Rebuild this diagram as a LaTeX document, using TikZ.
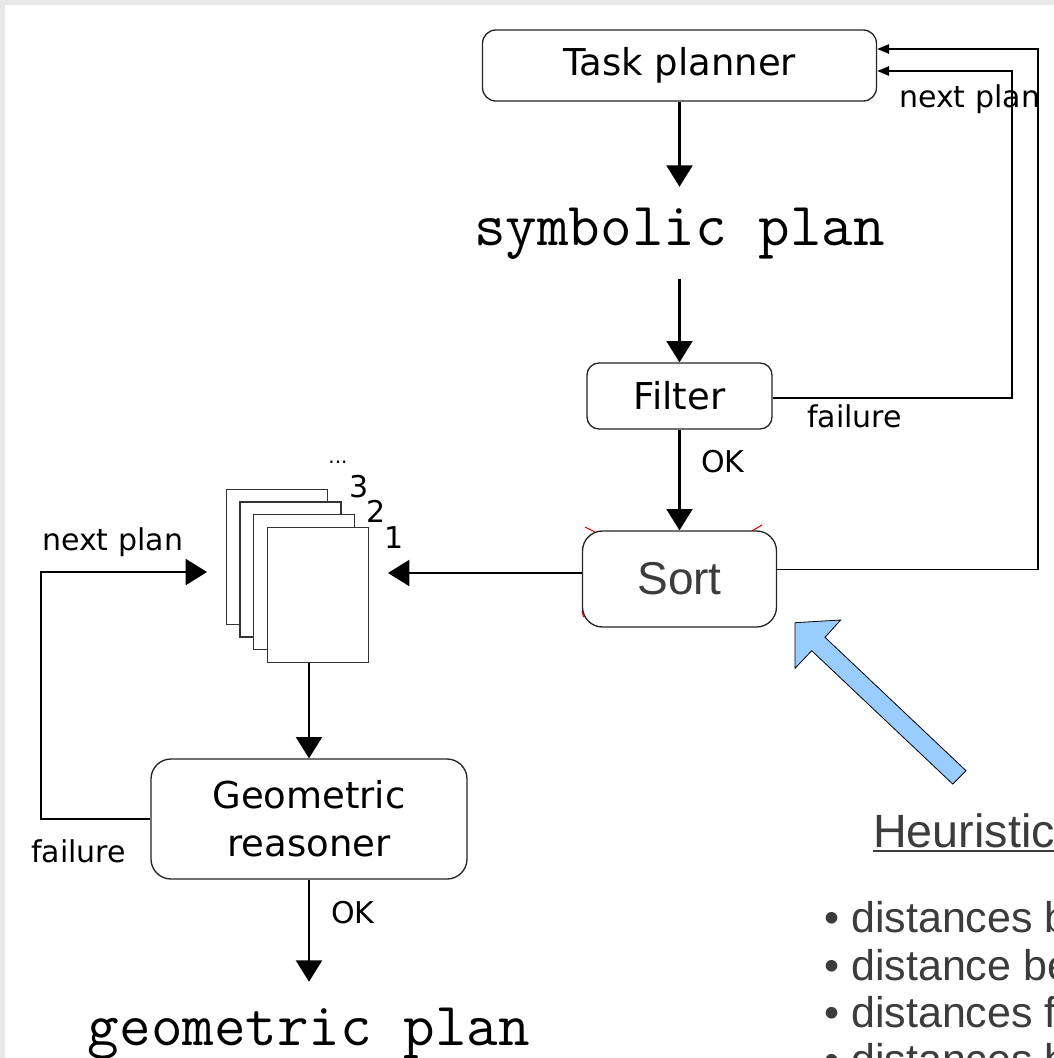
\documentclass[tikz,border=0pt]{standalone}
\usepackage{fontspec}
\setmainfont{DejaVu Sans}
\newfontfamily\arialf{Liberation Sans}
\usetikzlibrary{arrows.meta}
\definecolor{bggray}{HTML}{E8E8E8}
\definecolor{txtgray}{HTML}{3C3C3C}
\definecolor{arrowblue}{HTML}{99CCFF}
\begin{document}
\begin{tikzpicture}[x=0.75pt,y=-0.75pt,
  box/.style={draw=black!85, line width=1pt, inner sep=0pt, align=center,
    font=\fontsize{27.75pt}{36pt}\selectfont},
  flow/.style={line width=1.6pt, -{Triangle[length=16pt,width=19.5pt]}},
  back/.style={line width=1.2pt, -{Triangle[length=9pt,width=7pt]}},
  lbl/.style={inner sep=0pt, anchor=base west, font=\fontsize{22.5pt}{27pt}\selectfont},
  mono/.style={inner sep=0pt, anchor=base, font=\ttfamily\fontsize{46pt}{52pt}\selectfont},
  page/.style={draw=black!80, fill=white, line width=1.1pt, minimum width=75.75pt,
    minimum height=101.25pt, inner sep=0pt},
  heurtxt/.style={inner sep=0pt, anchor=base west, text=txtgray},
  selmark/.style={draw=red!85!black, line width=0.8pt}
]
\useasboundingbox (0,0) rectangle (1054,1058);
\clip (0,0) rectangle (1054,1058);
\fill[bggray] (0,0) rectangle (1054,1058);
\fill[white] (4.5,5) rectangle (1054,1058);

% boxes
\node[box, minimum width=295.5pt, minimum height=53.25pt, rounded corners=10pt] (tp) at (679.5,65.5) {Task planner};
\node[mono, text height=43.5pt, text depth=25.5pt] (sym) at (679.5,245) {symbolic plan};
\node[box, minimum width=138.75pt, minimum height=49.5pt, rounded corners=9pt] (filter) at (679.5,396) {Filter};
\node[box, minimum width=145.5pt, minimum height=72pt, rounded corners=15pt,
  font=\arialf\fontsize{34.5pt}{40pt}\selectfont, text=txtgray] (sort) at (679.5,579) {Sort};
\node[box, minimum width=237pt, minimum height=90pt, rounded corners=15pt] (geo) at (309,819) {Geometric\\reasoner};
\node[mono, text height=47.25pt, text depth=10pt] (gplan) at (309,1045) {geometric plan};

% stack of plans
\node[page] (pg4) at (277,557) {};
\node[page] (pg3) at (290.5,569.5) {};
\node[page] (pg2) at (304,582) {};
\node[page] (front) at (318,595) {};
\node[inner sep=0pt, font=\fontsize{15pt}{18pt}\selectfont] (dots) at (338,462) {...};
\node[lbl] (n3) at (349,497) {3};
\node[lbl] (n2) at (366,522) {2};
\node[lbl] (n1) at (384,548) {1};

% labels
\node[lbl] (np1) at (899,107) {next plan};
\node[lbl] (fl1) at (807,427) {failure};
\node[lbl] (ok1) at (701,472) {OK};
\node[lbl] (ok2) at (331,923) {OK};
\node[lbl] (np2) at (42,550) {next plan};
\node[lbl] (fl2) at (31,862) {failure};

% coordinates for free ends / bends
\coordinate (ro) at (1038,49);
\coordinate (ri) at (1012,71);
\coordinate (lc) at (41,572);
\coordinate (stin) at (207,572);
\coordinate (stin2) at (388,573);

% main flow
\draw[flow] (tp.south) -- (sym.north);
\draw[flow] (sym.south) -- (filter.north);
\draw[flow] (filter.south) -- (sort.north);
\draw[flow] ([yshift=4.5pt]sort.west) -- (stin2);
\draw[flow] (front.south -| geo.north) -- (geo.north);
\draw[flow] (geo.south) -- (gplan.north);
\draw[flow] (geo.west) -| (lc) -- (stin);

% feedback to task planner
\draw[back] ([yshift=7pt]sort.east) -| (ro) -- (ro -| tp.east);
\draw[back] ([yshift=-1.5pt]filter.east) -| (ri) -- (ri -| tp.east);

% selection marks on Sort
\draw[selmark] (585,527) -- (595,532);
\draw[selmark] (752,531) -- (762,525);
\draw[selmark] (582,611) -- (583.5,617);

% blue arrow
\filldraw[fill=arrowblue, draw=black, line width=0.6pt]
  (795,622.7) -- (840.7,620) -- (825,637.3) -- (966,770.7) -- (952.7,784)
  -- (811.7,650.7) -- (795,668.3) -- cycle;

% heuristics
\node[heurtxt, font=\arialf\fontsize{35pt}{40pt}\selectfont] (heur) at (873,847) {Heuristic};
\draw[txtgray, line width=1.5pt] ([yshift=-3pt]heur.base west) -- ([yshift=-3pt]heur.base east);
\node[heurtxt, font=\arialf\fontsize{32.25pt}{36pt}\selectfont] (h1) at (824,932) {• distances b};
\node[heurtxt, font=\arialf\fontsize{32.25pt}{36pt}\selectfont] (h2) at (824,980) {• distance be};
\node[heurtxt, font=\arialf\fontsize{32.25pt}{36pt}\selectfont] (h3) at (824,1027) {• distances f};
\node[heurtxt, font=\arialf\fontsize{32.25pt}{36pt}\selectfont] (h4) at (824,1074) {• distances b};
\end{tikzpicture}
\end{document}
